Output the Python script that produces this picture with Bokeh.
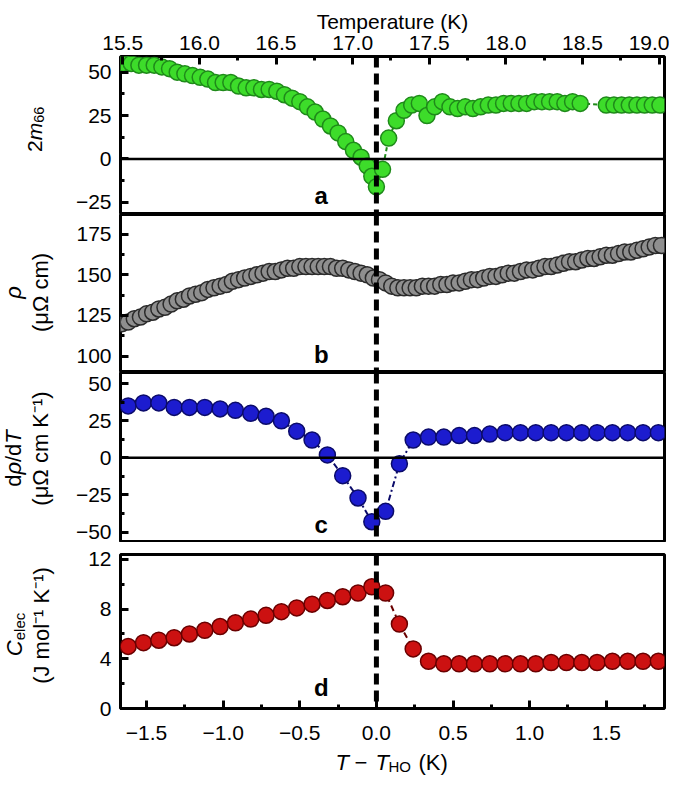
import numpy as np
from bokeh.plotting import figure
from bokeh.models import Range1d, LinearAxis, Span, Label, FixedTicker, CustomJSTickFormatter
from bokeh.layouts import column, row
from bokeh.embed import file_html
from bokeh.resources import INLINE

FONT = "Liberation Sans"

# ---------------- data ----------------
# panel a: 2 m66
xa = [-1.65, -1.60, -1.55, -1.50, -1.45, -1.40, -1.35, -1.30, -1.25, -1.20, -1.15, -1.10, -1.05,
      -1.00, -0.95, -0.90, -0.85, -0.80, -0.75, -0.70, -0.65, -0.60, -0.55, -0.50, -0.45, -0.40,
      -0.35, -0.30, -0.25, -0.20, -0.15, -0.10, -0.06, -0.03, 0.00, 0.04, 0.08, 0.13, 0.18, 0.23,
      0.28, 0.33, 0.38, 0.43, 0.48, 0.53, 0.58, 0.63, 0.68, 0.73, 0.78, 0.83, 0.88, 0.93, 0.98,
      1.03, 1.08, 1.13, 1.18, 1.23, 1.28, 1.33, 1.50, 1.55, 1.60, 1.65, 1.70, 1.75, 1.80, 1.85]
ya = [55, 55, 54, 54, 54, 53, 52, 50, 49, 48, 47, 46, 44, 44, 44, 42, 41, 41, 40, 40, 39, 37,
      35, 33, 30, 27, 23, 19, 15, 10, 5, 1, -4, -10, -16, -6, 12, 22, 28, 31, 32, 25, 30, 33,
      30, 29, 30, 29, 30, 31, 31, 32, 32, 32, 32, 33, 33, 33, 33, 32, 33, 32, 31, 31, 31, 31,
      31, 31, 31, 31]

# panel b: resistivity
xb = [-1.66, -1.62, -1.58, -1.54, -1.50, -1.46, -1.42, -1.38, -1.34, -1.30, -1.26, -1.22, -1.18,
      -1.14, -1.10, -1.06, -1.02, -0.98, -0.94, -0.90, -0.86, -0.82, -0.78, -0.74, -0.70, -0.66,
      -0.62, -0.58, -0.54, -0.50, -0.46, -0.42, -0.38, -0.34, -0.30, -0.26, -0.22, -0.18, -0.14,
      -0.10, -0.06, -0.02, 0.02, 0.06, 0.10, 0.14, 0.18, 0.22, 0.26, 0.30, 0.34, 0.38, 0.42, 0.46,
      0.50, 0.54, 0.58, 0.62, 0.66, 0.70, 0.74, 0.78, 0.82, 0.86, 0.90, 0.94, 0.98, 1.02, 1.06,
      1.10, 1.14, 1.18, 1.22, 1.26, 1.30, 1.34, 1.38, 1.42, 1.46, 1.50, 1.54, 1.58, 1.62, 1.66,
      1.70, 1.74, 1.78, 1.82, 1.86]
yb = [120, 121, 123, 124, 126, 127, 129, 130, 132, 134, 135, 137, 138, 139, 141, 142, 143, 144,
      146, 147, 148, 149, 150, 151, 152, 152, 153, 154, 154, 155, 155, 155, 155, 155, 155, 154,
      154, 153, 152, 151, 150, 148, 147, 145, 143, 142, 142, 142, 142, 143, 143, 143, 144, 144,
      145, 145, 146, 147, 147, 148, 149, 149, 150, 151, 151, 152, 153, 153, 154, 155, 155, 156,
      157, 158, 158, 159, 160, 160, 161, 162, 162, 163, 164, 164, 165, 166, 167, 168, 168]

# panel c: d rho / dT
xc = [-1.62, -1.52, -1.42, -1.32, -1.22, -1.12, -1.02, -0.92, -0.82, -0.72, -0.62, -0.52, -0.42,
      -0.32, -0.22, -0.12, -0.03, 0.06, 0.15, 0.24, 0.34, 0.44, 0.54, 0.64, 0.74, 0.84, 0.94,
      1.04, 1.14, 1.24, 1.34, 1.44, 1.54, 1.64, 1.74, 1.84]
yc = [35, 37, 37, 34, 34, 34, 33, 32, 30, 28, 25, 18, 12, 2, -12, -27, -43, -36, -4, 12, 14,
      14, 15, 15, 16, 17, 17, 17, 17, 17, 17, 17, 17, 17, 17, 17]

# panel d: electronic specific heat
xd = [-1.62, -1.52, -1.42, -1.32, -1.22, -1.12, -1.02, -0.92, -0.82, -0.72, -0.62, -0.52, -0.42,
      -0.32, -0.22, -0.12, -0.03, 0.06, 0.15, 0.24, 0.34, 0.44, 0.54, 0.64, 0.74, 0.84, 0.94,
      1.04, 1.14, 1.24, 1.34, 1.44, 1.54, 1.64, 1.74, 1.84]
yd = [5.0, 5.3, 5.5, 5.7, 6.0, 6.3, 6.6, 6.9, 7.2, 7.5, 7.8, 8.1, 8.4, 8.7, 9.0, 9.3, 9.8, 9.3,
      6.8, 4.8, 3.8, 3.6, 3.6, 3.6, 3.6, 3.6, 3.6, 3.6, 3.7, 3.7, 3.7, 3.7, 3.8, 3.8, 3.8, 3.8]

T_HO = 17.155
x_ticks = [-1.5, -1.0, -0.5, 0.0, 0.5, 1.0, 1.5]
t_ticks = [15.5, 16.0, 16.5, 17.0, 17.5, 18.0, 18.5, 19.0]

# ---------------- layout ----------------
XMIN, XMAX = -1.67, 1.88
x_range = Range1d(XMIN, XMAX)
FW = 544
TW = 68          # width of the strip holding the y titles
LB, RB = 52, 5
TICK = "21px"
TITLE = "22px"

fmt_x = CustomJSTickFormatter(code="return (tick < 0 ? '\u2212' : '') + Math.abs(tick).toFixed(1);")
fmt_y = CustomJSTickFormatter(code="return (tick < 0 ? '\u2212' : '') + Math.abs(tick).toFixed(0);")


def style_axis(ax):
    ax.axis_line_color = None
    ax.major_tick_in = 8
    ax.major_tick_out = 0
    ax.minor_tick_in = 4
    ax.minor_tick_out = 0
    ax.major_tick_line_width = 3
    ax.minor_tick_line_width = 3
    ax.major_label_text_font = FONT
    ax.major_label_text_font_size = TICK
    ax.major_label_text_color = "black"
    ax.axis_label_text_color = "black"


def make_fig(yr, fh, top, bottom, yticks, minor_step):
    p = figure(frame_width=FW, frame_height=fh, x_range=x_range, y_range=Range1d(*yr),
               min_border_left=LB, min_border_right=RB, min_border_top=top, min_border_bottom=bottom,
               toolbar_location=None, output_backend="svg")
    p.grid.visible = False
    p.outline_line_color = "black"
    p.outline_line_width = 3
    p.background_fill_color = "white"
    p.border_fill_color = "white"
    p.xaxis.visible = False
    ax = p.yaxis[0]
    ax.ticker = FixedTicker(ticks=yticks, minor_ticks=list(np.arange(yticks[0] - minor_step, yr[1], minor_step)))
    ax.formatter = fmt_y
    style_axis(ax)
    ax.major_label_standoff = 9
    p.add_layout(Span(location=0.0, dimension="height", line_color="black", line_width=5,
                      line_dash="11 6"))
    return p


def title_fig(top, fh, bottom, img_top):
    # strip left of a panel; coordinates are page pixels (y grows downwards)
    f = figure(frame_width=TW, frame_height=fh, x_range=Range1d(8, 8 + TW),
               y_range=Range1d(img_top + fh, img_top), min_border_left=0, min_border_right=0,
               min_border_top=top, min_border_bottom=bottom, x_axis_type=None, y_axis_type=None,
               toolbar_location=None, output_backend="svg")
    f.grid.visible = False
    f.outline_line_color = None
    return f


def rtext(f, x, y, text, size=TITLE, style="normal"):
    f.add_layout(Label(x=x, y=y, text=text, angle=np.pi / 2, text_align="center",
                       text_baseline="middle", text_font=FONT, text_font_size=size,
                       text_font_style=style, text_color="black"))


def panel_letter(p, y, t):
    p.add_layout(Label(x=-0.36, y=y, text=t, text_align="center", text_baseline="bottom",
                       text_font=FONT, text_font_size="24px", text_font_style="bold",
                       text_color="black"))


def series(p, x, y, fill, edge, dash):
    p.line(x, y, line_color=edge, line_width=2, line_dash=dash)
    p.scatter(x, y, size=16, fill_color=fill, line_color=edge, line_width=1.5)


# panel a  (frame: page y 64 .. 222)
pa = make_fig((-32, 59), 158, 56, 0, [-25, 0, 25, 50], 12.5)
top_axis = LinearAxis(x_range_name="temp")
pa.extra_x_ranges = {"temp": Range1d(XMIN + T_HO, XMAX + T_HO)}
top_axis.ticker = FixedTicker(ticks=t_ticks, minor_ticks=list(np.arange(15.25, 19.3, 0.25)))
top_axis.formatter = CustomJSTickFormatter(code="return tick.toFixed(1);")
top_axis.axis_label = "Temperature (K)"
style_axis(top_axis)
top_axis.major_label_standoff = 7
top_axis.axis_label_text_font = FONT
top_axis.axis_label_text_font_size = TICK
top_axis.axis_label_text_font_style = "normal"
top_axis.axis_label_standoff = 0
pa.add_layout(top_axis, "above")
pa.add_layout(Span(location=0.0, dimension="width", line_color="black", line_width=2.5))
series(pa, xa, ya, "#3ddc2a", "#1f8a1a", "4 3")
panel_letter(pa, -29, "a")
ta = title_fig(56, 158, 0, 64)
rtext(ta, 42, 153.7, "2", size="21px")
rtext(ta, 42, 139, "m", size="21px", style="italic")
rtext(ta, 46.5, 122.3, "66", size="14.5px")

# panel b  (frame: page y 222 .. 380)
pb = make_fig((90, 187), 158, 0, 0, [100, 125, 150, 175], 12.5)
series(pb, xb, yb, "#8f8f8f", "#2b2b2b", "solid")
panel_letter(pb, 93, "b")
tb = title_fig(0, 158, 0, 222)
rtext(tb, 21, 300, "\u03c1", style="italic")
rtext(tb, 48, 300, "(\u03bc\u03a9 cm)")

# panel c  (frame: page y 380 .. 550)
pc = make_fig((-57, 57.5), 170, 0, 0, [-50, -25, 0, 25, 50], 12.5)
pc.add_layout(Span(location=0.0, dimension="width", line_color="black", line_width=2.5))
series(pc, xc, yc, "#1c1ccf", "#0b0b6a", "6 3 2 3")
panel_letter(pc, -54, "c")
tc = title_fig(0, 170, 0, 380)
for yy, t, st in [(488.1, "d", "normal"), (475.8, "\u03c1", "italic"), (466.5, "/", "normal"),
                  (457.4, "d", "normal"), (444.6, "T", "italic")]:
    rtext(tc, 21, yy, t, style=st)
rtext(tc, 48, 456, "(\u03bc\u03a9 cm K\u207b\u00b9)")

# panel d  (frame: page y 562 .. 716)
pd_ = make_fig((0, 12.4), 154, 12, 40, [0, 4, 8, 12], 2)
pd_.xaxis.visible = True
bx = pd_.xaxis[0]
bx.ticker = FixedTicker(ticks=x_ticks, minor_ticks=list(np.arange(-1.75, 2.0, 0.25)))
bx.formatter = fmt_x
style_axis(bx)
bx.major_label_standoff = 17
series(pd_, xd, yd, "#cc1111", "#6a0000", "6 4")
panel_letter(pd_, 0.6, "d")
td = title_fig(12, 154, 40, 562)
rtext(td, 22, 655.8, "C", style="italic")
rtext(td, 27, 634, "elec", size="15px")
rtext(td, 49, 633, "(J mol\u207b\u00b9 K\u207b\u00b9)")

# bottom title strip: T - T_HO (K)   (page y 756 .. 784)
bt = figure(frame_width=FW, frame_height=28, x_range=Range1d(128, 128 + FW), y_range=Range1d(784, 756),
            min_border_left=TW + LB, min_border_right=RB, min_border_top=0, min_border_bottom=0,
            x_axis_type=None, y_axis_type=None, toolbar_location=None, output_backend="svg")
bt.grid.visible = False
bt.outline_line_color = None
for xx, yy, t, sz, st in [(343, 770, "T", TITLE, "italic"), (362, 770, "\u2212", TITLE, "normal"),
                          (383, 770, "T", TITLE, "italic"), (396, 774, "HO", "15px", "normal"),
                          (426, 770, "(K)", TITLE, "normal")]:
    bt.add_layout(Label(x=xx, y=yy, text=t, text_align="left", text_baseline="middle",
                        text_font=FONT, text_font_size=sz, text_font_style=st, text_color="black"))

layout = column(row(ta, pa, spacing=0), row(tb, pb, spacing=0), row(tc, pc, spacing=0),
                row(td, pd_, spacing=0), bt, spacing=0)
open("out.html", "w").write(file_html(layout, INLINE))
